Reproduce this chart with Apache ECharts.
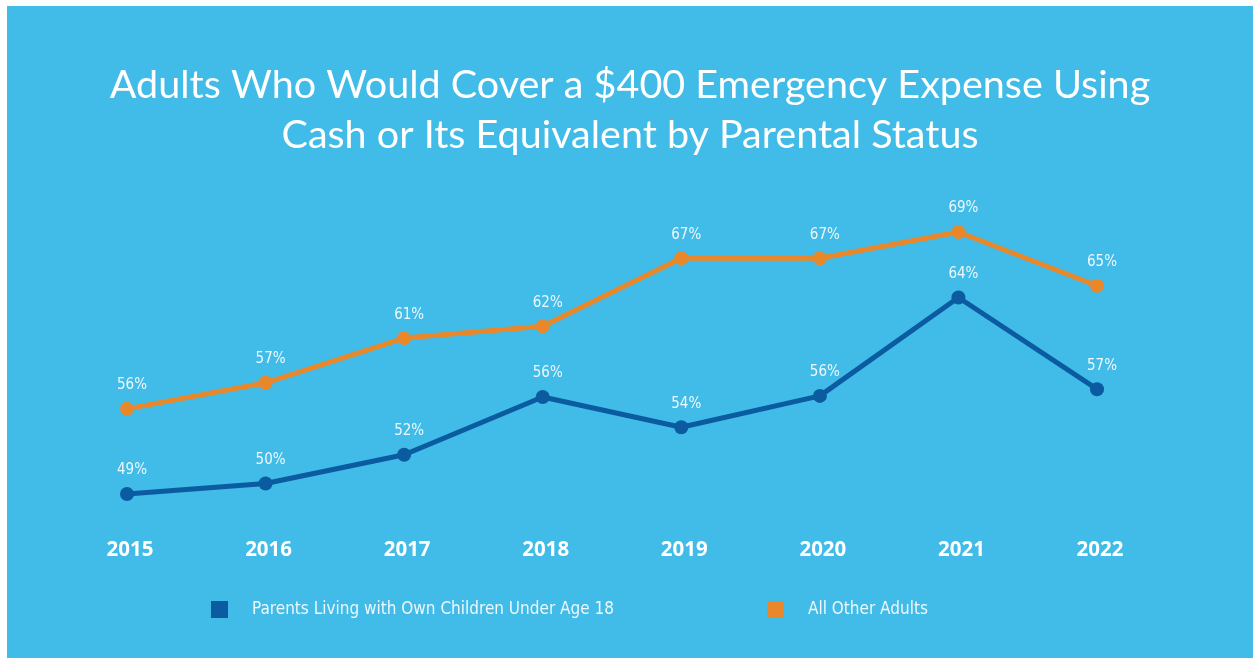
<!DOCTYPE html>
<html>
<head>
<meta charset="utf-8">
<script src="https://cdn.jsdelivr.net/npm/echarts@6/dist/echarts.min.js"></script>
<style>
  html, body { margin: 0; padding: 0; background: #ffffff; width: 1253px; height: 658px; overflow: hidden; }
  #c { position: absolute; left: 7px; top: 6px; width: 1246px; height: 652px; }
</style>
</head>
<body>
<div id="c"></div>
<script>
const titleText = 'Adults Who Would Cover a $400 Emergency Expense Using\nCash or Its Equivalent by Parental Status';
const years = ['2015', '2016', '2017', '2018', '2019', '2020', '2021', '2022'];
const seriesNames = ['Parents Living with Own Children Under Age 18', 'All Other Adults'];
const parents = [49.0, 49.8, 52.0, 56.4, 54.1, 56.49, 64.0, 57.0];
const others = [55.5, 57.49, 60.9, 61.8, 67.0, 67.0, 69.0, 64.9];

const BLUE = '#0A5B9F';
const ORANGE = '#E8882A';
const LABEL = '#EEF8FD';

const chart = echarts.init(document.getElementById('c'), null, { renderer: 'canvas' });

function lineSeries(name, data, color) {
  return {
    name: name,
    type: 'line',
    data: data,
    symbol: 'circle',
    symbolSize: 14,
    itemStyle: { color: color },
    lineStyle: { color: color, width: 5 },
    label: {
      show: true,
      position: 'top',
      distance: 9,
      offset: [5, 0],
      color: LABEL,
      fontFamily: 'Liberation Sans Narrow, DejaVu Sans Condensed, sans-serif',
      fontSize: 15,
      formatter: p => Math.round(p.value) + '%'
    },
    emphasis: { disabled: true },
    animation: false
  };
}

function legendFor(name, left) {
  return {
    data: [name],
    left: left, top: 595,
    padding: 0,
    icon: 'rect', itemWidth: 17, itemHeight: 17,
    selectedMode: false,
    textStyle: {
      color: LABEL,
      fontFamily: 'Liberation Sans Narrow, DejaVu Sans Condensed, sans-serif',
      fontSize: 17,
      padding: [3, 0, 0, 19]
    }
  };
}

chart.setOption({
  backgroundColor: '#41BBE7',
  animation: false,
  title: {
    text: titleText,
    left: 'center',
    top: 49,
    textStyle: {
      color: '#ffffff',
      fontFamily: 'Lato, Open Sans, sans-serif',
      fontWeight: 'normal',
      fontSize: 39.5,
      lineHeight: 50
    }
  },
  legend: [
    legendFor(seriesNames[0], 204),
    legendFor(seriesNames[1], 760)
  ],
  grid: { left: 120, right: 156, top: 186.7, bottom: 124.7, containLabel: false },
  xAxis: {
    type: 'category',
    data: years,
    boundaryGap: false,
    axisLine: { show: false },
    axisTick: { show: false },
    splitLine: { show: false },
    axisLabel: {
      color: '#ffffff',
      fontFamily: 'Open Sans, Lato, sans-serif',
      fontWeight: 'bold',
      fontSize: 20.5,
      lineHeight: 20,
      margin: 7,
      padding: [0, 0, 0, 6]
    }
  },
  yAxis: {
    type: 'value',
    min: 46,
    max: 72,
    show: false
  },
  series: [
    lineSeries(seriesNames[0], parents, BLUE),
    lineSeries(seriesNames[1], others, ORANGE)
  ]
});
</script>
</body>
</html>
